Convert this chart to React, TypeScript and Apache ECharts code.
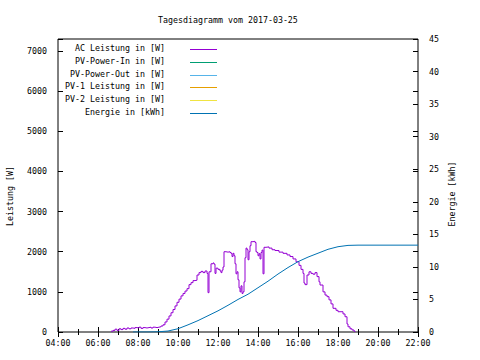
import React, { useEffect, useRef } from "react";
import * as echarts from "echarts";

const chartTitle = "Tagesdiagramm vom 2017-03-25";
const leftAxisName = "Leistung [W]";
const rightAxisName = "Energie [kWh]";

const seriesNames = [
  "AC Leistung in [W]",
  "PV-Power-In in [W]",
  "PV-Power-Out in [W]",
  "PV-1 Leistung in [W]",
  "PV-2 Leistung in [W]",
  "Energie in [kWh]",
];
const seriesColors = ["#9400d3", "#009e73", "#56b4e9", "#e69f00", "#f0e442", "#0072b2"];

const acTimes = [
  "06:39", "06:45", "06:51", "06:57", "07:03", "07:09", "07:15", "07:21", "07:27", "07:33",
  "07:39", "07:45", "07:51", "07:57", "08:03", "08:09", "08:15", "08:21", "08:27", "08:33",
  "08:39", "08:45", "08:51", "08:57", "09:03", "09:09", "09:15", "09:21", "09:27", "09:33",
  "09:39", "09:45", "09:51", "09:57", "10:03", "10:09", "10:15", "10:21", "10:27", "10:33",
  "10:39", "10:45", "10:51", "10:57", "11:03", "11:09", "11:15", "11:21", "11:27", "11:30",
  "11:33", "11:39", "11:45", "11:48", "11:51", "11:54", "12:00", "12:06", "12:09", "12:12",
  "12:15", "12:18", "12:24", "12:30", "12:36", "12:39", "12:42", "12:45", "12:48", "12:51",
  "12:54", "12:57", "13:00", "13:03", "13:06", "13:09", "13:12", "13:15", "13:18", "13:21",
  "13:24", "13:27", "13:30", "13:33", "13:36", "13:39", "13:45", "13:51", "13:54", "13:57",
  "14:00", "14:03", "14:06", "14:09", "14:12", "14:15", "14:18", "14:24", "14:33", "14:42",
  "14:51", "15:03", "15:15", "15:27", "15:36", "15:45", "15:54", "16:03", "16:09", "16:15",
  "16:18", "16:21", "16:27", "16:33", "16:39", "16:45", "16:51", "16:57", "17:03", "17:06",
  "17:15", "17:21", "17:27", "17:33", "17:39", "17:45", "17:54", "18:00", "18:09", "18:15",
  "18:21", "18:27", "18:30", "18:36", "18:42", "18:48", "18:51",
];
const acWatts = [
  20, 40, 70, 40, 80, 60, 90, 70, 100, 80,
  100, 90, 110, 100, 120, 90, 110, 100, 110, 120,
  100, 120, 110, 120, 130, 150, 180, 250, 320, 400,
  480, 560, 650, 740, 820, 900, 960, 1020, 1080, 1180,
  1230, 1280, 1290, 1420, 1480, 1510, 1480, 1520, 1460, 980,
  1500, 1700, 1720, 1690, 1460, 1590, 1560, 1520, 1480, 1540,
  1620, 2000, 1990, 2000, 1980, 1960, 1880, 1960, 1900, 1700,
  1450, 1500, 1300, 1100, 1000, 1150, 960, 1000, 1250, 1850,
  2090, 2050, 1800, 2000, 2150, 2250, 2260, 2230, 2000, 1980,
  1900, 1950, 1820, 1980, 2040, 1450, 2110, 2120, 2090, 2050,
  2030, 1990, 1960, 1920, 1880, 1820, 1750, 1660, 1560, 1460,
  1220, 1180, 1420, 1500, 1460, 1440, 1480, 1380, 1250, 1170,
  1000, 920, 880, 800, 700, 590, 540, 505, 505, 450,
  380, 200, 130, 80, 50, 20, 0,
];

const energyTimes = [
  "07:45", "08:30", "09:00", "09:30", "10:00", "10:30", "11:00", "11:30", "12:00", "12:30",
  "13:00", "13:30", "14:00", "14:30", "15:00", "15:30", "16:00", "16:30", "17:00", "17:30",
  "18:00", "18:30", "19:00", "22:00",
];
const energyKWh = [
  0, 0, 0.03, 0.15, 0.5, 1.1, 1.75, 2.5, 3.25, 4.1,
  5.0, 5.8, 6.8, 7.8, 8.9, 9.9, 10.8, 11.5, 12.1, 12.7,
  13.1, 13.3, 13.34, 13.34,
];

const xMin = 4;
const xMax = 22;
const leftMax = 7300;
const rightMax = 45;

const FONT = "DejaVu Sans Mono";
const FS = 8.3;

const toHours = (t: string) => {
  const [h, m] = t.split(":").map(Number);
  return h + m / 60;
};
const pad = (n: number) => String(n).padStart(2, "0");

export default function App() {
  const ref = useRef<HTMLDivElement>(null);

  useEffect(() => {
    if (!ref.current) return;
    const chart = echarts.init(ref.current, undefined, { renderer: "svg" });

    const acData = acTimes.map((t, i) => [toHours(t), acWatts[i]]);
    const energyData = energyTimes.map((t, i) => [toHours(t), energyKWh[i]]);

    const textStyle = { fontFamily: FONT, fontSize: FS, color: "#000" };

    const xBase = {
      type: "value" as const,
      min: xMin,
      max: xMax,
      interval: 2,
      axisLine: { show: false },
      splitLine: { show: false },
      axisTick: { show: true, inside: true, length: 5, lineStyle: { color: "#000" } },
      minorTick: { show: true, splitNumber: 2, length: 3, lineStyle: { color: "#000" } },
      minorSplitLine: { show: false },
    };

    const legendRows = seriesNames.map((name, i) => {
      const y = Math.round(48 + i * 12.8);
      return [
        {
          type: "text",
          x: 165,
          y,
          z: 100,
          style: {
            text: name,
            align: "right",
            textAlign: "right",
            verticalAlign: "middle",
            textVerticalAlign: "middle",
            fontFamily: FONT,
            fontSize: FS,
            fill: "#000",
          },
        },
        {
          type: "line",
          z: 100,
          shape: { x1: 190, y1: y + 1.5, x2: 217, y2: y + 1.5 },
          style: { stroke: seriesColors[i], lineWidth: 1 },
        },
      ];
    }).flat();

    const option: any = {
      animation: false,
      backgroundColor: "#fff",
      title: {
        text: chartTitle,
        left: 153,
        top: 11,
        textStyle: { fontFamily: FONT, fontSize: FS, fontWeight: "normal", color: "#000" },
      },
      grid: {
        left: 58,
        right: 62,
        top: 39,
        bottom: 28,
        show: true,
        borderColor: "#000",
        borderWidth: 1,
        backgroundColor: "transparent",
      },
      xAxis: [
        {
          ...xBase,
          position: "bottom",
          axisLabel: {
            ...textStyle,
            margin: 7,
            showMinLabel: true,
            showMaxLabel: true,
            formatter: (v: number) => pad(v) + ":00",
          },
        },
        {
          ...xBase,
          position: "top",
          axisLabel: { show: false },
        },
      ],
      yAxis: [
        {
          type: "value",
          min: 0,
          max: leftMax,
          interval: 1000,
          position: "left",
          axisLine: { show: false },
          splitLine: { show: false },
          axisTick: { show: true, inside: true, length: 5, lineStyle: { color: "#000" } },
          axisLabel: {
            ...textStyle,
            margin: 11,
            formatter: (v: number) => (v % 1000 === 0 ? String(v) : ""),
          },
        },
        {
          type: "value",
          min: 0,
          max: rightMax,
          interval: 5,
          position: "right",
          axisLine: { show: false },
          splitLine: { show: false },
          axisTick: { show: true, inside: true, length: 5, lineStyle: { color: "#000" } },
          axisLabel: { ...textStyle, margin: 11 },
        },
        {
          type: "value",
          min: 0,
          max: leftMax,
          interval: 1000,
          position: "right",
          axisLine: { show: false },
          splitLine: { show: false },
          axisTick: { show: true, inside: true, length: 5, lineStyle: { color: "#000" } },
          axisLabel: { show: false },
        },
      ],
      series: [
        {
          name: seriesNames[0],
          type: "line",
          step: "end",
          data: acData,
          yAxisIndex: 0,
          symbol: "none",
          lineStyle: { color: seriesColors[0], width: 1 },
          itemStyle: { color: seriesColors[0] },
        },
        ...[1, 2, 3, 4].map((i) => ({
          name: seriesNames[i],
          type: "line",
          data: [],
          yAxisIndex: 0,
          symbol: "none",
          lineStyle: { color: seriesColors[i], width: 1 },
          itemStyle: { color: seriesColors[i] },
        })),
        {
          name: seriesNames[5],
          type: "line",
          data: energyData,
          yAxisIndex: 1,
          symbol: "none",
          lineStyle: { color: seriesColors[5], width: 1 },
          itemStyle: { color: seriesColors[5] },
        },
      ],
      graphic: [
        {
          type: "text",
          x: 10,
          y: 196,
          rotation: Math.PI / 2,
          style: {
            text: leftAxisName,
            align: "center",
            textAlign: "center",
            verticalAlign: "middle",
            textVerticalAlign: "middle",
            fontFamily: FONT,
            fontSize: FS,
            fill: "#000",
          },
        },
        {
          type: "text",
          x: 452,
          y: 194,
          rotation: Math.PI / 2,
          style: {
            text: rightAxisName,
            align: "center",
            textAlign: "center",
            verticalAlign: "middle",
            textVerticalAlign: "middle",
            fontFamily: FONT,
            fontSize: FS,
            fill: "#000",
          },
        },
        ...legendRows,
      ],
    };

    chart.setOption(option);
    return () => chart.dispose();
  }, []);

  return <div ref={ref} style={{ width: 480, height: 360, position: "fixed", left: 0, top: 0 }} />;
}
